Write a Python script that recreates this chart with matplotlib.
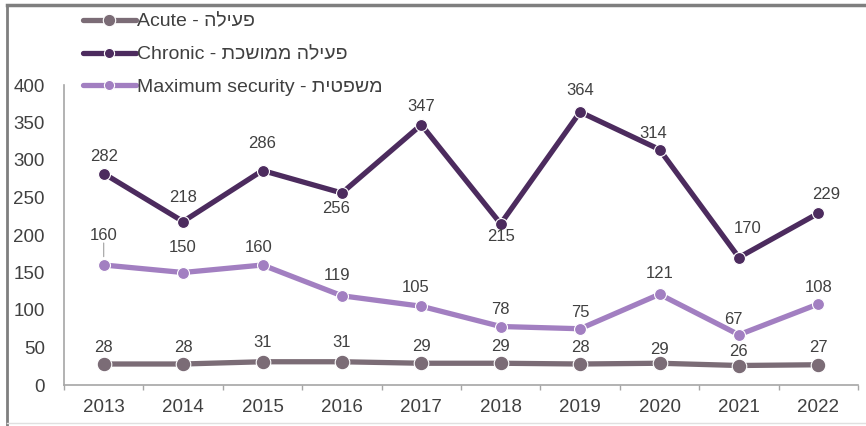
import matplotlib
matplotlib.use("Agg")
import matplotlib.pyplot as plt
from matplotlib.lines import Line2D
import numpy as np

plt.rcParams['font.family'] = ['Liberation Sans', 'DejaVu Sans']

years = ['2013', '2014', '2015', '2016', '2017', '2018', '2019', '2020', '2021', '2022']
acute = [28, 28, 31, 31, 29, 29, 28, 29, 26, 27]
chronic = [282, 218, 286, 256, 347, 215, 364, 314, 170, 229]
max_security = [160, 150, 160, 119, 105, 78, 75, 121, 67, 108]

# Hebrew parts are stored in visual (left-to-right) order for rendering
label_acute = 'Acute - ' + 'פעילה'[::-1]
label_chronic = 'Chronic - ' + 'פעילה ממושכת'[::-1]
label_max = 'Maximum security - ' + 'משפטית'[::-1]

# label offsets in pixels (dx, dy; positive dy is upward)
off_acute = [(0, 17), (0, 17), (0, 19), (0, 19), (0, 17), (0, 17), (0, 17), (0, 14), (0, 14), (0, 17)]
off_chronic = [(0, 17), (0, 24), (0, 27), (-6, -15), (0, 18), (0, -13), (0, 22), (-6, 16), (9, 29), (8, 19)]
off_max = [(0, 30), (0, 25), (-4, 17), (-5, 20), (-6, 19), (0, 17), (0, 16), (0, 21), (-6, 15), (0, 16)]

c_acute = '#7b6c76'
c_chronic = '#4c2b5e'
c_max = '#a27fc1'
txt = '#404040'

W, H = 866, 426
fig = plt.figure(figsize=(W / 100, H / 100), dpi=100)
ax = fig.add_axes([64 / W, (H - 385) / H, (858 - 64) / W, 300 / H])

x = np.arange(len(years))
px = 0.72  # pixels -> points at 100 dpi

series = [
    (acute, c_acute, label_acute, 10.5, off_acute),
    (chronic, c_chronic, label_chronic, 8.6, off_chronic),
    (max_security, c_max, label_max, 8.6, off_max),
]

for vals, col, lab, ms, offs in series:
    ax.plot(x, vals, color=col, lw=3.8, marker='o', ms=ms, mfc=col,
            mec='white', mew=0.8, label=lab, solid_capstyle='round', zorder=3)
    for i, v in enumerate(vals):
        dx, dy = offs[i]
        ax.annotate(str(v), (x[i], v), xytext=(dx * px, dy * px),
                    textcoords='offset points', ha='center', va='center',
                    fontsize=12, color=txt, zorder=4)

# leader line for the first maximum-security label
ax.annotate('', (x[0], max_security[0]), xytext=(0, 22 * px), textcoords='offset points',
            arrowprops=dict(arrowstyle='-', color='#a0a0a0', lw=0.8, shrinkA=0, shrinkB=6))

ax.set_xlim(-0.5, len(years) - 0.5)
ax.set_ylim(0, 400)
ax.set_yticks(np.arange(0, 401, 50))
ax.set_xticks(x)
ax.set_xticklabels(years)
ax.set_xticks(np.arange(-0.5, len(years), 1), minor=True)
ax.tick_params(axis='y', length=0, pad=19 * px, labelsize=13.5, colors=txt)
ax.tick_params(axis='x', which='major', length=0, pad=10, labelsize=13.5, colors=txt)
ax.tick_params(axis='x', which='minor', length=5 * px, width=1, color='#a6a6a6')
for s in ['top', 'right']:
    ax.spines[s].set_visible(False)
for s in ['left', 'bottom']:
    ax.spines[s].set_color('#a6a6a6')
    ax.spines[s].set_linewidth(1.2)

leg = ax.legend(loc='upper left', bbox_to_anchor=(83 / W, 1 - 13 / H),
                bbox_transform=fig.transFigure, frameon=False, fontsize=14,
                handlelength=2.7, handletextpad=0.1, labelspacing=0.78,
                borderpad=0, borderaxespad=0, markerscale=0.85)
for t in leg.get_texts():
    t.set_color(txt)

# outer frame
fig.add_artist(Line2D([7 / W, 7 / W], [0, 1 - 5 / H], transform=fig.transFigure,
                      color='#7f7f7f', lw=2))
fig.add_artist(Line2D([7 / W, 1], [1 - 5 / H, 1 - 5 / H], transform=fig.transFigure,
                      color='#7f7f7f', lw=2.5))
fig.add_artist(Line2D([7 / W, 1], [3 / H, 3 / H], transform=fig.transFigure,
                      color='#e0e0e0', lw=1))

fig.savefig('out.png', dpi=100)
